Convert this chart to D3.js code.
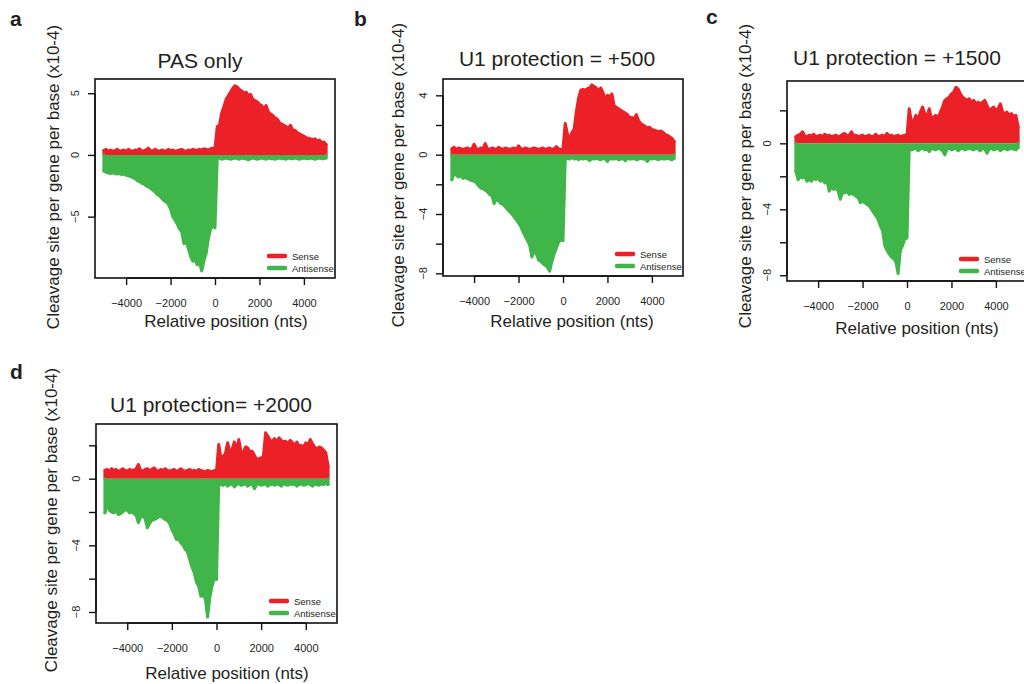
<!DOCTYPE html>
<html><head><meta charset="utf-8">
<script src="https://cdn.jsdelivr.net/npm/d3@7"></script>
<style>
html,body{margin:0;padding:0;background:#fff;}
svg text{font-family:"Liberation Sans",Arial,Helvetica,sans-serif;fill:#231f20;}
</style></head>
<body>
<svg id="chart" width="1024" height="684"></svg>
<script>
// Relative positions (nts), every 100 nt from -5000 to 5000
const positions = d3.range(-5000, 5001, 100);
const xTicks = [-4000, -2000, 0, 2000, 4000];
const seriesNames = ["Sense", "Antisense"];
const titles = ["PAS only", "U1 protection = +500", "U1 protection = +1500", "U1 protection= +2000"];
const letters = ["a", "b", "c", "d"];

// Panel a: PAS only (x10-4)
const senseA = [
 0.35,0.45,0.3,0.4,0.3,0.35,0.45,0.3,0.35,0.4,
 0.3,0.45,0.35,0.3,0.4,0.35,0.5,0.3,0.35,0.4,
 0.55,0.35,0.3,0.45,0.35,0.3,0.4,0.35,0.3,0.45,
 0.35,0.4,0.3,0.35,0.4,0.45,0.35,0.3,0.4,0.35,
 0.45,0.4,0.35,0.45,0.4,0.5,0.45,0.4,0.5,0.55,
 0.5,
 2.3,2.4,3.4,3.9,4.5,4.8,5.1,5.4,5.6,5.5,
 5.3,5.2,5.0,5.1,4.8,4.9,4.5,4.4,4.3,4.1,
 4.0,3.7,4.0,3.5,3.3,3.2,3.0,2.9,2.6,2.5,
 2.4,2.3,2.2,2.4,2.0,2.0,1.8,1.7,1.6,1.5,
 1.4,1.35,1.3,1.25,1.3,1.1,1.2,1.0,1.05,0.85];
const antisenseA = [
 -1.3,-1.4,-1.45,-1.5,-1.45,-1.5,-1.55,-1.5,-1.6,-1.55,
 -1.65,-1.7,-1.75,-1.85,-1.9,-2.1,-2.15,-2.3,-2.35,-2.5,
 -2.6,-2.7,-2.85,-3.0,-3.2,-3.3,-3.5,-3.7,-3.8,-4.0,
 -4.4,-5.0,-5.3,-5.6,-6.0,-6.2,-7.2,-7.0,-7.6,-8.2,
 -8.6,-8.5,-8.9,-8.7,-9.4,-8.6,-8.0,-6.8,-6.0,-5.8,
 -5.9,
 -0.3,-0.25,-0.35,-0.3,-0.25,-0.3,-0.35,-0.3,-0.25,-0.3,
 -0.35,-0.25,-0.3,-0.3,-0.4,-0.3,-0.25,-0.3,-0.35,-0.3,
 -0.25,-0.3,-0.35,-0.25,-0.3,-0.3,-0.35,-0.3,-0.25,-0.3,
 -0.3,-0.35,-0.25,-0.3,-0.3,-0.25,-0.3,-0.35,-0.3,-0.25,
 -0.3,-0.3,-0.25,-0.3,-0.35,-0.3,-0.25,-0.3,-0.3,-0.25];

// Panel b: U1 protection = +500
const senseB = [
 0.4,0.5,0.35,0.45,0.4,0.35,0.4,0.45,0.35,0.4,
 0.7,0.4,0.35,0.45,0.4,0.75,0.4,0.35,0.45,0.4,
 0.35,0.5,0.4,0.35,0.45,0.4,0.35,0.4,0.45,0.35,
 0.6,0.4,0.35,0.45,0.4,0.35,0.4,0.45,0.4,0.35,
 0.4,0.45,0.35,0.4,0.45,0.35,0.4,0.55,0.4,0.35,
 0.4,
 2.1,1.4,1.1,1.5,1.7,2.9,3.8,4.35,4.4,4.35,
 4.45,4.5,4.7,4.6,4.5,4.3,4.5,4.2,3.7,4.0,
 3.9,4.1,3.3,3.2,3.1,3.0,2.9,2.8,2.7,2.5,
 2.5,2.4,2.7,2.3,2.1,2.0,1.9,1.8,1.85,1.7,
 1.65,1.6,1.55,1.6,1.5,1.35,1.3,1.2,1.1,0.9];
const antisenseB = [
 -1.7,-1.2,-1.4,-1.5,-1.4,-1.6,-1.55,-1.6,-1.7,-1.75,
 -1.8,-1.9,-2.1,-2.25,-2.3,-2.4,-2.5,-2.7,-2.75,-3.3,
 -3.0,-3.1,-3.3,-3.35,-3.5,-3.7,-3.85,-4.0,-4.2,-4.4,
 -4.6,-4.85,-5.2,-5.5,-5.8,-6.1,-6.9,-6.4,-6.7,-7.1,
 -7.2,-7.35,-7.45,-7.6,-7.85,-7.2,-6.7,-6.3,-5.9,-5.75,
 -5.8,
 -0.3,-0.25,-0.3,-0.2,-0.3,-0.25,-0.35,-0.25,-0.3,-0.25,
 -0.3,-0.4,-0.25,-0.3,-0.25,-0.3,-0.35,-0.25,-0.3,-0.45,
 -0.25,-0.3,-0.3,-0.25,-0.35,-0.3,-0.25,-0.4,-0.25,-0.3,
 -0.3,-0.25,-0.35,-0.3,-0.25,-0.3,-0.3,-0.45,-0.25,-0.3,
 -0.25,-0.3,-0.35,-0.25,-0.3,-0.3,-0.25,-0.3,-0.35,-0.25];

// Panel c: U1 protection = +1500
const senseC = [
 0.4,0.5,0.55,0.7,0.45,0.4,0.5,0.45,0.55,0.4,
 0.45,0.5,0.4,0.55,0.45,0.5,0.4,0.45,0.5,0.4,
 0.45,0.55,0.6,0.45,0.5,0.7,0.45,0.5,0.4,0.45,
 0.5,0.4,0.45,0.5,0.4,0.45,0.55,0.4,0.45,0.5,
 0.4,0.6,0.45,0.5,0.4,0.45,0.5,0.4,0.45,0.5,
 0.45,
 2.1,1.3,1.35,1.7,1.4,1.9,2.2,1.8,1.6,2.1,
 1.5,1.6,1.7,1.5,1.9,2.2,2.6,2.7,2.8,3.0,
 3.1,3.4,3.3,3.0,2.8,2.7,2.6,2.7,2.5,2.6,
 2.4,2.5,2.4,2.5,2.6,2.3,2.0,2.1,2.2,2.0,
 2.1,2.4,1.9,1.8,1.9,1.7,1.8,1.6,1.7,1.0];
const antisenseC = [
 -1.7,-2.2,-2.0,-2.1,-2.0,-2.3,-2.2,-2.3,-2.1,-2.2,
 -2.1,-2.3,-2.2,-2.4,-2.3,-2.9,-2.6,-2.8,-2.7,-2.9,
 -3.4,-3.0,-3.0,-2.9,-3.1,-3.0,-3.1,-3.2,-3.3,-3.6,
 -3.5,-3.6,-3.7,-3.8,-4.0,-4.2,-4.4,-4.6,-5.0,-5.3,
 -6.2,-6.5,-6.7,-6.9,-7.0,-7.2,-7.9,-6.5,-6.2,-5.8,
 -5.75,
 -0.3,-0.4,-0.35,-0.3,-0.45,-0.35,-0.3,-0.4,-0.35,-0.5,
 -0.3,-0.35,-0.4,-0.3,-0.35,-0.45,-0.7,-0.35,-0.3,-0.4,
 -0.35,-0.3,-0.45,-0.35,-0.3,-0.4,-0.35,-0.3,-0.35,-0.4,
 -0.3,-0.35,-0.45,-0.3,-0.35,-0.6,-0.35,-0.3,-0.4,-0.35,
 -0.3,-0.45,-0.35,-0.3,-0.4,-0.35,-0.3,-0.35,-0.4,-0.25];

// Panel d: U1 protection = +2000
const senseD = [
 0.5,0.55,0.45,0.6,0.5,0.55,0.45,0.5,0.6,0.5,
 0.45,0.55,0.5,0.5,0.6,0.85,0.5,0.45,0.55,0.6,
 0.5,0.55,0.65,0.5,0.45,0.55,0.5,0.6,0.5,0.45,
 0.5,0.55,0.45,0.5,0.6,0.5,0.45,0.5,0.55,0.45,
 0.5,0.45,0.55,0.5,0.45,0.4,0.5,0.45,0.4,0.5,
 0.45,
 2.05,1.2,1.35,1.5,2.15,1.6,1.75,2.2,1.7,2.35,
 1.6,1.55,1.9,1.85,1.6,1.65,1.4,1.15,1.2,1.25,
 1.3,2.75,2.55,2.3,2.25,2.4,2.2,2.45,2.3,2.2,
 2.25,2.1,2.3,2.15,2.0,2.2,1.95,2.0,1.9,2.15,
 2.0,2.35,2.1,1.9,1.75,1.9,1.85,1.7,1.55,0.75];
const antisenseD = [
 -2.05,-1.5,-1.9,-2.0,-2.05,-1.9,-2.15,-2.1,-2.0,-1.85,
 -1.9,-2.05,-2.0,-2.1,-2.2,-2.65,-2.3,-2.25,-2.4,-2.95,
 -2.7,-2.5,-2.45,-2.4,-2.3,-2.25,-2.35,-2.45,-2.5,-2.7,
 -3.05,-3.3,-3.65,-3.6,-3.85,-4.0,-4.25,-4.4,-4.85,-5.3,
 -5.65,-6.2,-6.45,-7.05,-7.0,-7.2,-8.3,-7.15,-6.45,-6.0,
 -6.05,
 -0.3,-0.35,-0.4,-0.3,-0.45,-0.35,-0.3,-0.5,-0.35,-0.3,
 -0.4,-0.35,-0.3,-0.45,-0.35,-0.3,-0.6,-0.35,-0.3,-0.4,
 -0.35,-0.3,-0.45,-0.35,-0.3,-0.4,-0.3,-0.35,-0.45,-0.3,
 -0.35,-0.4,-0.3,-0.35,-0.3,-0.45,-0.35,-0.3,-0.4,-0.35,
 -0.3,-0.35,-0.45,-0.3,-0.35,-0.4,-0.3,-0.35,-0.3,-0.35];

const yTicksA = [-5, 0, 5],               yLabelsA = [-5, 0, 5];
const yTicksB = [-8, -6, -4, -2, 0, 2, 4], yLabelsB = [-8, -4, 0, 4];
const yTicksC = [-8, -6, -4, -2, 0, 2],    yLabelsC = [-8, -4, 0];
const yTicksD = [-8, -6, -4, -2, 0, 2],    yLabelsD = [-8, -4, 0];

const senseColor = "#ec2027", antiColor = "#40b54a";

// layout of each panel
const panels = [
  {sense: senseA, anti: antisenseA, yTicks: yTicksA, yLabels: yLabelsA, yDom: [-9.97, 6.15],
   L: 95, R: 335, T: 79, B: 278, titleX: 200, titleY: 68, xlabX: 226, xlabY: 327, ylabX: 59, ylabY: 177, letX: 10, letY: 26},
  {sense: senseB, anti: antisenseB, yTicks: yTicksB, yLabels: yLabelsB, yDom: [-8.18, 5.1],
   L: 443, R: 683, T: 79, B: 276, titleX: 557, titleY: 66, xlabX: 572, xlabY: 327, ylabX: 404, ylabY: 175, letX: 354, letY: 26},
  {sense: senseC, anti: antisenseC, yTicks: yTicksC, yLabels: yLabelsC, yDom: [-8.35, 3.78],
   L: 787, R: 1027, T: 81, B: 281, titleX: 897, titleY: 65, xlabX: 917, xlabY: 334, ylabX: 751, ylabY: 176, letX: 706, letY: 24},
  {sense: senseD, anti: antisenseD, yTicks: yTicksD, yLabels: yLabelsD, yDom: [-8.66, 3.28],
   L: 96, R: 337, T: 424, B: 623, titleX: 211, titleY: 412, xlabX: 227, xlabY: 679, ylabX: 57, ylabY: 520, letX: 10, letY: 379}
];

const svg = d3.select("#chart");
const fmt = v => v < 0 ? "\u2212" + Math.abs(v) : String(v);

panels.forEach((p, i) => {
  const g = svg.append("g");
  const x = d3.scaleLinear().domain([-5400, 5400]).range([p.L, p.R]);
  const y = d3.scaleLinear().domain(p.yDom).range([p.B, p.T]);

  const drawSeries = (vals, color) => {
    const pts = positions.map((pos, k) => [pos, vals[k]]);
    g.append("path").datum(pts)
      .attr("d", d3.area().x(d => x(d[0])).y0(y(0)).y1(d => y(d[1])))
      .attr("fill", color);
    g.append("path").datum(pts)
      .attr("d", d3.line().x(d => x(d[0])).y(d => y(d[1])))
      .attr("fill", "none").attr("stroke", color).attr("stroke-width", 3)
      .attr("stroke-linejoin", "round").attr("stroke-linecap", "round");
    // vertical edge at start and end of each series
    g.append("path").datum(pts)
      .attr("d", d => `M${x(d[0][0])},${y(0)}V${y(d[0][1])}M${x(d[d.length-1][0])},${y(0)}V${y(d[d.length-1][1])}`)
      .attr("stroke", color).attr("stroke-width", 3).attr("stroke-linecap", "round");
  };
  drawSeries(p.sense, senseColor);
  drawSeries(p.anti, antiColor);

  // box
  g.append("rect").attr("x", p.L).attr("y", p.T).attr("width", p.R - p.L).attr("height", p.B - p.T)
    .attr("fill", "none").attr("stroke", "#111").attr("stroke-width", 1.6);

  // x axis
  const xa = g.append("g").attr("transform", `translate(0,${p.B})`)
    .call(d3.axisBottom(x).tickValues(xTicks).tickSize(7).tickPadding(10).tickFormat(fmt));
  xa.select(".domain").attr("stroke", "#111").attr("stroke-width", 1.4)
    .attr("d", `M${x(-4000)},0H${x(4000)}`);
  xa.selectAll(".tick line").attr("stroke", "#111").attr("stroke-width", 1.4);
  xa.selectAll(".tick text").attr("font-size", 11).attr("fill", "#231f20")
    .attr("font-family", "Liberation Sans, Arial, sans-serif").attr("dy", null).attr("y", 29);

  // y axis
  const ya = g.append("g").attr("transform", `translate(${p.L},0)`)
    .call(d3.axisLeft(y).tickValues(p.yTicks).tickSize(7).tickFormat(""));
  ya.select(".domain").attr("stroke", "#111").attr("stroke-width", 1.4)
    .attr("d", `M0,${y(d3.min(p.yTicks))}V${y(d3.max(p.yTicks))}`);
  ya.selectAll(".tick line").attr("stroke", "#111").attr("stroke-width", 1.4);
  g.selectAll(".ylab").data(p.yLabels).enter().append("text")
    .attr("transform", d => `translate(${p.L - 16},${y(d)}) rotate(-90)`)
    .attr("text-anchor", "middle").attr("font-size", 11).text(fmt);

  // title, axis labels, panel letter
  g.append("text").attr("x", p.titleX).attr("y", p.titleY).attr("text-anchor", "middle")
    .attr("font-size", 21).attr("fill", "#2b2b2b").text(titles[i]);
  g.append("text").attr("x", p.xlabX).attr("y", p.xlabY).attr("text-anchor", "middle")
    .attr("font-size", 17).text("Relative position (nts)");
  g.append("text").attr("transform", `translate(${p.ylabX},${p.ylabY}) rotate(-90)`)
    .attr("text-anchor", "middle").attr("font-size", 17).text("Cleavage site per gene per base (x10-4)");
  g.append("text").attr("x", p.letX).attr("y", p.letY).attr("font-size", 21).attr("font-weight", "bold")
    .attr("fill", "#000").text(letters[i]);

  // legend
  const lg = g.append("g");
  [senseColor, antiColor].forEach((c, k) => {
    const ly = p.B - 22 + k * 12;
    lg.append("line").attr("x1", p.R - 66).attr("x2", p.R - 50).attr("y1", ly).attr("y2", ly)
      .attr("stroke", c).attr("stroke-width", 4.5).attr("stroke-linecap", "round");
    lg.append("text").attr("x", p.R - 43).attr("y", ly + 3.5).attr("font-size", 9.5)
      .attr("fill", "#333").text(seriesNames[k]);
  });
});
</script>
</body></html>
